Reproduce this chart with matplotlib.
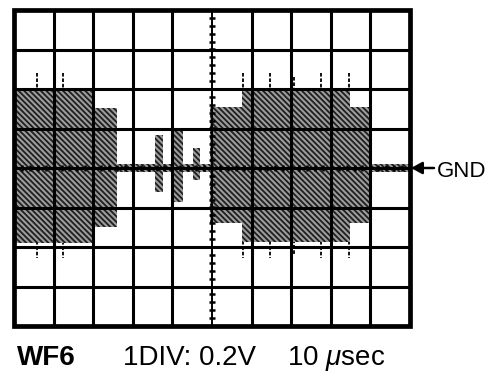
import numpy as np
import matplotlib
matplotlib.use("Agg")
import matplotlib.pyplot as plt

plt.rcParams['font.family'] = ['Liberation Sans', 'DejaVu Sans']
plt.rcParams['mathtext.fontset'] = 'custom'
plt.rcParams['mathtext.it'] = 'Liberation Sans:italic'
plt.rcParams['mathtext.rm'] = 'Liberation Sans'
plt.rcParams['hatch.linewidth'] = 1.3

# Screen: 10 x 8 divisions, values in divisions (1 DIV = 0.2 V, 10 usec)
burst_start = [0.0, 2.0, 3.56, 4.02, 4.52, 4.95, 5.76, 8.48]
burst_end = [2.0, 2.6, 3.76, 4.27, 4.70, 5.76, 8.48, 9.04]
burst_top = [2.0, 1.52, 0.84, 1.0, 0.5, 1.55, 2.0, 1.55]
burst_bottom = [-1.9, -1.5, -0.6, -0.87, -0.3, -1.4, -1.88, -1.4]

noise_start = [2.6, 9.04]
noise_end = [4.95, 10.0]
noise_amp = [0.09, 0.1]

spike_x = [0.58, 1.24, 5.78, 6.46, 7.07, 7.75, 8.46]
spike_top = [2.41, 2.41, 2.41, 2.41, 2.3, 2.41, 2.41]
spike_bottom = [-2.28, -2.28, -2.28, -2.28, -2.2, -2.28, -2.28]

W, H = 492, 373
fig = plt.figure(figsize=(W / 100, H / 100), dpi=100)
ax = fig.add_axes([14 / W, (H - 326) / H, 396 / W, 316 / H])
ax.set_xlim(0, 10)
ax.set_ylim(-4, 4)
ax.axis('off')

fill_face = '#9c9c9c'
hatch_col = '#1e1e1e'
hatch = '\\\\\\\\\\\\'

widths = np.array(burst_end) - np.array(burst_start)
heights = np.array(burst_top) - np.array(burst_bottom)
ax.bar(burst_start, heights, width=widths, bottom=burst_bottom, align='edge',
       color=fill_face, edgecolor=hatch_col, linewidth=0, hatch=hatch, zorder=2)

for s, e, a in zip(noise_start, noise_end, noise_amp):
    ax.bar(s, 2 * a, width=e - s, bottom=-a, align='edge', color=fill_face,
           edgecolor=hatch_col, linewidth=0, hatch=hatch, zorder=2)

ax.vlines(spike_x, spike_top, spike_bottom, colors='black', linewidth=1.3,
          linestyles=(0, (2, 1)), zorder=1)

# grid
for gx in range(1, 10):
    lw = 1.4 if gx == 5 else 2.2
    ax.axvline(gx, color='black', linewidth=lw, zorder=4)
for gy in range(-3, 4):
    ax.axhline(gy, color='black', linewidth=2.2, zorder=4)
# minor ticks on centre lines
ty = np.arange(-4, 4.01, 0.2)
ax.plot(np.full_like(ty, 5.0), ty, linestyle='none', marker='_', markersize=5,
        markeredgewidth=1.8, color='black', zorder=4)
tx = np.arange(0, 10.01, 0.2)
ax.plot(tx, np.zeros_like(tx), linestyle='none', marker='|', markersize=5,
        markeredgewidth=1.8, color='black', zorder=4)
# border
ax.add_patch(plt.Rectangle((0, -4), 10, 8, fill=False, edgecolor='black',
                           linewidth=3.4, zorder=5, clip_on=False))

# GND marker
fig.patches.append(matplotlib.patches.FancyArrowPatch(
    (434 / W, (H - 168) / H), (411 / W, (H - 168) / H), transform=fig.transFigure,
    arrowstyle='-|>,head_length=0.55,head_width=0.3', mutation_scale=12,
    color='black', linewidth=1.8, shrinkA=0, shrinkB=0))
fig.text(437 / W, (H - 177) / H, 'GND', fontsize=16, ha='left', va='baseline')

# caption
fig.text(17 / W, (H - 365) / H, 'WF6', fontsize=20, fontweight='bold',
         ha='left', va='baseline')
fig.text(123 / W, (H - 365) / H, '1DIV: 0.2V', fontsize=20, ha='left', va='baseline')
fig.text(287 / W, (H - 365) / H, r'10 $\mathit{\mu}$sec', fontsize=20, ha='left',
         va='baseline')

fig.savefig('out.png', dpi=100)
